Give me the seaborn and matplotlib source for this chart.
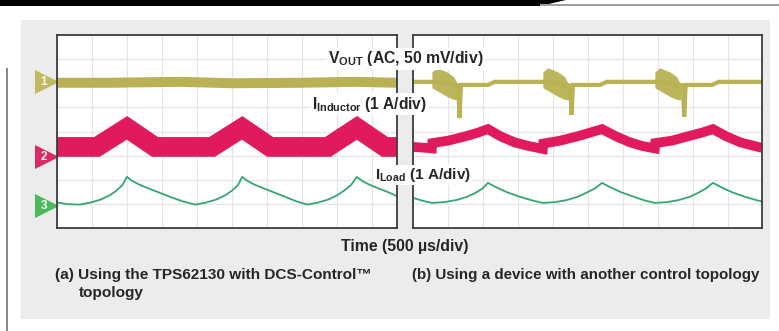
import matplotlib
matplotlib.use("Agg")
import matplotlib.pyplot as plt
import seaborn as sns
from matplotlib.patches import Rectangle, Polygon

# --------------------------------------------------------------
# Scope traces (units = screen divisions, y=0 at bottom of grid)
# --------------------------------------------------------------
# (a) TPS62130 with DCS-Control
t_a_vout = [0.0, 1.5, 3.5, 5.0, 7.0, 8.5, 9.71]
vout_a = [6.02, 6.02, 6.06, 6.0, 6.02, 6.06, 6.02]

t_a_il = [0.0, 1.14, 2.0, 2.8, 4.43, 5.29, 6.09, 7.74, 8.57, 9.37, 9.71]
il_a = [3.36, 3.36, 4.15, 3.36, 3.36, 4.15, 3.36, 3.36, 4.15, 3.36, 3.36]

t_a_load = [0.0, 0.3, 0.65, 0.95, 1.25, 1.5, 1.7, 1.87, 2.0,
            2.15, 2.35, 2.6, 2.9, 3.25, 3.6, 3.95,
            4.25, 4.55, 4.8, 5.0, 5.17, 5.29,
            5.44, 5.64, 5.89, 6.19, 6.54, 6.85, 7.15,
            7.45, 7.75, 8.0, 8.2, 8.4, 8.57,
            8.72, 8.92, 9.17, 9.47, 9.71]
iload_a = [1.06, 0.99, 0.97, 1.05, 1.18, 1.35, 1.55, 1.78, 2.12,
           1.95, 1.8, 1.65, 1.48, 1.28, 1.1, 0.97,
           1.05, 1.18, 1.35, 1.55, 1.78, 2.12,
           1.95, 1.8, 1.65, 1.48, 1.28, 1.1, 0.97,
           1.05, 1.18, 1.35, 1.55, 1.78, 2.12,
           1.95, 1.8, 1.65, 1.48, 1.32]

# (b) other control topology
t_b_vout = [0.0, 0.54, 0.9, 1.29, 1.33, 1.37, 2.14, 2.34, 3.71, 4.1, 4.49,
            4.53, 4.57, 5.34, 5.54, 6.91, 7.3, 7.71, 7.75, 7.79, 8.54, 8.74, 9.97]
vout_b = [6.06, 6.06, 6.0, 5.9, 4.56, 5.93, 5.93, 6.06, 6.06, 6.0, 5.9,
          4.69, 5.93, 5.93, 6.06, 6.06, 6.0, 5.9, 4.62, 5.93, 5.93, 6.06, 6.06]

# ringing bursts on Vout at each load step
burst_start = [0.54, 3.71, 6.91]
burst_dx = [0.0, 0.14, 0.43, 0.62, 0.75]
burst_hi = [6.47, 6.64, 6.47, 6.27, 5.93]
burst_lo = [5.81, 5.70, 5.45, 5.33, 5.31]

t_b_il = [0.0, 0.3, 0.54, 0.55, 1.0, 1.5, 1.85, 2.14, 2.5, 2.9, 3.3, 3.71,
          3.72, 4.2, 4.7, 5.05, 5.4, 5.8, 6.2, 6.55, 6.91, 6.92, 7.4, 7.85,
          8.25, 8.57, 8.95, 9.35, 9.97]
il_b = [3.36, 3.33, 3.3, 3.52, 3.62, 3.8, 3.95, 4.1, 3.8, 3.55, 3.4, 3.28,
        3.5, 3.62, 3.8, 3.95, 4.1, 3.8, 3.55, 3.4, 3.3, 3.52, 3.62, 3.8,
        3.95, 4.1, 3.8, 3.55, 3.32]

t_b_load = [0.0, 0.27, 0.54,
            0.89, 1.24, 1.54, 1.79, 1.99, 2.14,
            2.39, 2.69, 3.04, 3.39, 3.7,
            4.05, 4.4, 4.7, 4.95, 5.2, 5.4,
            5.65, 5.95, 6.3, 6.6, 6.9,
            7.25, 7.6, 7.9, 8.15, 8.37, 8.57,
            8.82, 9.12, 9.47, 9.82, 9.97]
iload_b = [1.25, 1.13, 1.04,
           1.07, 1.16, 1.29, 1.46, 1.64, 1.87,
           1.68, 1.48, 1.3, 1.15, 1.04,
           1.07, 1.16, 1.29, 1.46, 1.64, 1.87,
           1.68, 1.48, 1.3, 1.15, 1.04,
           1.07, 1.16, 1.29, 1.46, 1.64, 1.87,
           1.68, 1.48, 1.3, 1.15, 1.1]

# channel reference markers
ch_labels = ["1", "2", "3"]
ch_ref = [6.06, 2.95, 0.9]

# --------------------------------------------------------------
# Style
# --------------------------------------------------------------
VOUT_C = "#b9b153"
IL_C = "#e01a5c"
LOAD_C = "#35a673"
MARK_C = ["#c2ba62", "#dc2a66", "#4cb95e"]
FRAME_C = "#3c3c3c"
GRID_C = "#e6e3e6"
PANEL_C = "#ececec"
TEXT_C = "#262626"

sns.set_theme(style="white")
plt.rcParams["font.family"] = ["Liberation Sans", "DejaVu Sans"]
plt.rcParams["font.weight"] = "bold"
plt.rcParams["mathtext.fontset"] = "custom"
plt.rcParams["mathtext.rm"] = "Liberation Sans:bold"
plt.rcParams["mathtext.it"] = "Liberation Sans:bold"
plt.rcParams["mathtext.bf"] = "Liberation Sans:bold"

W, H = 779, 331
DIV = 35  # px per horizontal division
fig = plt.figure(figsize=(W / 100, H / 100), dpi=100)
fig.patch.set_facecolor("white")


def px_axes(x0, y0, x1, y1):
    return fig.add_axes([x0 / W, 1 - y1 / H, (x1 - x0) / W, (y1 - y0) / H])


# background decorations
bg = px_axes(0, 0, W, H)
bg.set_xlim(0, W)
bg.set_ylim(H, 0)
bg.axis("off")
bg.add_patch(Rectangle((21, 20), 749, 299, color=PANEL_C, lw=0))
bg.add_patch(Polygon([(0, 0), (566, 0), (540, 6), (0, 6)], color="black", lw=0))
bg.add_patch(Rectangle((540, 4), 239, 2, color="#a0a0a0", lw=0))
bg.add_patch(Rectangle((6.5, 68), 2, 263, color="#8a8a8a", lw=0))

ax_a = px_axes(57, 35, 397, 228)
ax_b = px_axes(413, 35, 762, 228)

for ax, width in [(ax_a, 397 - 57), (ax_b, 762 - 413)]:
    ax.set_facecolor("white")
    ax.set_xlim(0, width / DIV)
    ax.set_ylim(0, 8)
    ax.set_xticks(range(0, 10))
    ax.set_yticks(range(0, 9))
    ax.grid(True, color=GRID_C, lw=0.8)
    ax.tick_params(length=0, labelbottom=False, labelleft=False)
    ax.set_xlabel("")
    ax.set_ylabel("")
    for sp in ax.spines.values():
        sp.set_visible(True)
        sp.set_color(FRAME_C)
        sp.set_linewidth(1.3)

line_kw = dict(estimator=None, sort=False, solid_joinstyle="miter",
               solid_capstyle="butt")

# (a)
sns.lineplot(x=t_a_vout, y=vout_a, ax=ax_a, color=VOUT_C, linewidth=7.2, **line_kw)
sns.lineplot(x=t_a_il, y=il_a, ax=ax_a, color=IL_C, linewidth=14.2, **line_kw)
sns.lineplot(x=t_a_load, y=iload_a, ax=ax_a, color=LOAD_C, linewidth=1.3,
             solid_joinstyle="round", estimator=None, sort=False)

# (b)
sns.lineplot(x=t_b_vout, y=vout_b, ax=ax_b, color=VOUT_C, linewidth=3.0, **line_kw)
for s in burst_start:
    ax_b.fill_between([s + d for d in burst_dx], burst_lo, burst_hi,
                      color=VOUT_C, lw=0, alpha=0.95)
sns.lineplot(x=t_b_il, y=il_b, ax=ax_b, color=IL_C, linewidth=7.0, **line_kw)
sns.lineplot(x=t_b_load, y=iload_b, ax=ax_b, color=LOAD_C, linewidth=1.3,
             solid_joinstyle="round", estimator=None, sort=False)

# channel markers to the left of (a)
for lab, ref, mc in zip(ch_labels, ch_ref, MARK_C):
    ax_a.plot([-0.3], [ref], marker=">", ms=17, color=mc, clip_on=False, mew=0)
    ax_a.text(-0.37, ref, lab, color="#fbf7ea", fontsize=8.5, ha="center",
              va="center", clip_on=False)


def ftext(x, y, s, **kw):
    return fig.text(x / W, 1 - y / H, s, color=TEXT_C, fontweight="bold", **kw)


lab_box = dict(facecolor="white", edgecolor="none", pad=1.0)
ftext(328, 59, r"V$_{\mathrm{OUT}}$ (AC, 50 mV/div)", fontsize=11.3,
      va="center", bbox=lab_box)
ftext(312, 104, r"I$_{\mathrm{Inductor}}$ (1 A/div)", fontsize=11.2,
      va="center", bbox=lab_box)
ftext(375, 175, r"I$_{\mathrm{Load}}$ (1 A/div)", fontsize=11.0,
      va="center", bbox=lab_box)

ftext(405, 247, "Time (500 µs/div)", fontsize=11.4, ha="center", va="center")
ftext(55, 275, "(a) Using the TPS62130 with DCS-Control™", fontsize=11.1,
      va="center")
ftext(79, 293, "topology", fontsize=11.1, va="center")
ftext(412, 275, "(b) Using a device with another control topology",
      fontsize=10.9, va="center")

fig.savefig("out.png", dpi=100)
